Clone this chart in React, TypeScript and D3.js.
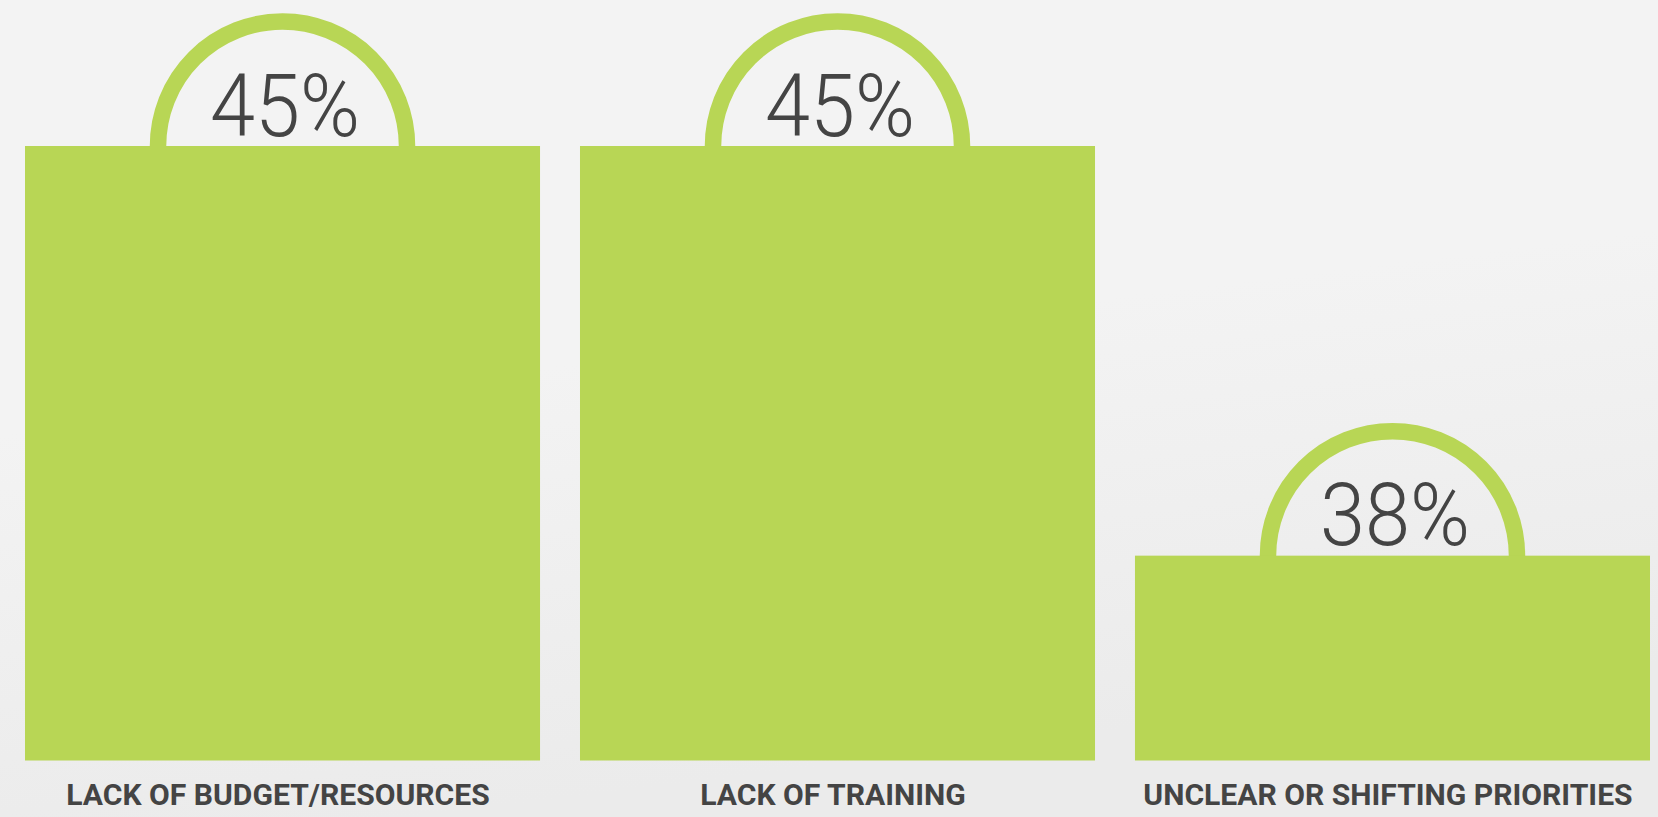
import React from "react";
import * as d3 from "d3";

const categories = ["LACK OF BUDGET/RESOURCES", "LACK OF TRAINING", "UNCLEAR OR SHIFTING PRIORITIES"];
const values = [45, 45, 38];
const valueLabels = ["45%", "45%", "38%"];

const W = 1658;
const H = 817;
const BAR_COLOR = "#b8d655";
const TEXT_COLOR = "#444444";

export default function App() {
  const x = d3.scaleBand<string>().domain(categories).range([25, 1650]).paddingInner(0.072).paddingOuter(0);
  const y = d3.scaleLinear().domain([34.5, 45]).range([760.5, 146]);
  const rArc = 124.5;
  return (
    <svg width={W} height={H} style={{ position: "absolute", left: 0, top: 0, display: "block" }}>
      <defs>
        <linearGradient id="bg" x1="0" y1="0" x2="0.25" y2="1">
          <stop offset="0" stopColor="#f3f3f3" />
          <stop offset="0.5" stopColor="#f3f3f3" />
          <stop offset="1" stopColor="#ebebeb" />
        </linearGradient>
      </defs>
      <rect x={0} y={0} width={W} height={H} fill="url(#bg)" />
      {categories.map((c, i) => {
        const x0 = x(c)!;
        const bw = x.bandwidth();
        const cx = x0 + bw / 2;
        const top = y(values[i]);
        const arc = d3.path();
        arc.moveTo(cx - rArc, top + 1);
        arc.arc(cx, top, rArc, Math.PI, 2 * Math.PI);
        arc.lineTo(cx + rArc, top + 1);
        return (
          <g key={c}>
            <path d={arc.toString()} fill="none" stroke={BAR_COLOR} strokeWidth={16.5} />
            <rect x={x0} y={top} width={bw} height={y(34.5) - top} fill={BAR_COLOR} />
            <text
              x={cx + 2.5}
              y={top - 10.5}
              textAnchor="middle"
              fontFamily="Roboto"
              fontWeight={300}
              fontSize={88}
              fill={TEXT_COLOR}
              textLength={150}
              lengthAdjust="spacingAndGlyphs"
            >
              {valueLabels[i]}
            </text>
            <text
              x={cx - 4.5}
              y={805}
              textAnchor="middle"
              fontFamily="Roboto"
              fontWeight={700}
              fontSize={30.1}
              fill={TEXT_COLOR}
            >
              {c}
            </text>
          </g>
        );
      })}
    </svg>
  );
}
